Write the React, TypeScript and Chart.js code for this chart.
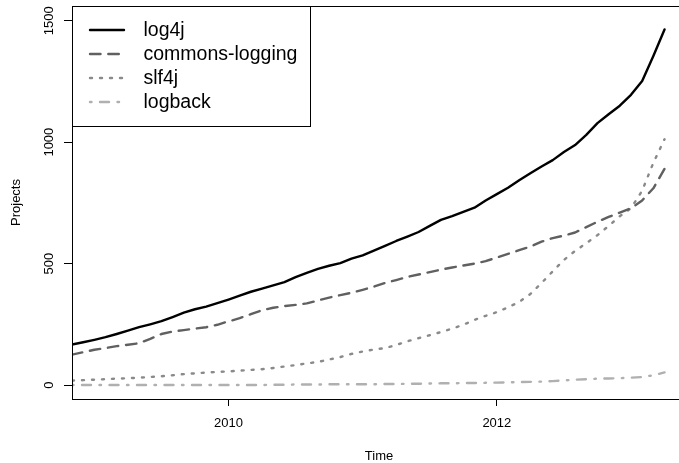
import React, { useEffect, useRef } from "react";
import { Chart, registerables } from "chart.js";

Chart.register(...registerables);

// Monthly series, Nov 2008 .. Apr 2013
const START_YEAR = 2008;
const START_MONTH = 11; // November

const log4j = [167, 176, 186, 197, 210, 224, 238, 250, 263, 280, 298, 312, 323, 337, 352, 368, 384, 397, 410, 424, 444, 462, 478, 491, 502, 520, 534, 553, 573, 593, 611, 630, 655, 680, 695, 713, 730, 760, 786, 812, 843, 872, 900, 926, 959, 988, 1030, 1078, 1115, 1150, 1195, 1252, 1355, 1464];
const commonsLogging = [125, 135, 145, 152, 160, 166, 172, 190, 210, 220, 226, 232, 238, 248, 262, 275, 292, 308, 318, 325, 330, 336, 348, 360, 370, 380, 392, 405, 420, 432, 445, 455, 465, 475, 484, 492, 500, 510, 525, 540, 555, 570, 590, 605, 615, 628, 650, 672, 692, 710, 728, 760, 810, 890];
const slf4j = [18, 20, 22, 24, 26, 28, 30, 33, 36, 40, 45, 48, 51, 54, 56, 59, 62, 65, 70, 76, 82, 89, 95, 105, 115, 128, 138, 146, 152, 165, 180, 193, 205, 218, 232, 248, 268, 285, 300, 320, 342, 375, 420, 468, 515, 552, 584, 617, 655, 695, 728, 800, 915, 1012];
const logback = [0, 0, 0, 0, 0, 0, 0, 0, 0, 0, 0, 0, 0, 0, 0, 0, 0, 0, 1, 1, 2, 2, 2, 3, 3, 3, 3, 3, 4, 4, 5, 5, 6, 7, 7, 8, 8, 9, 10, 11, 12, 13, 14, 16, 19, 22, 24, 26, 27, 28, 30, 33, 40, 52];

const seriesNames = ["log4j", "commons-logging", "slf4j", "logback"];
const xTicks = [2010, 2012];
const yTicks = [0, 500, 1000, 1500];
const xTitle = "Time";
const yTitle = "Projects";

const FONT = "'Liberation Sans', Arial, Helvetica, sans-serif";

const times = log4j.map((_, i) => START_YEAR + (START_MONTH - 1 + i) / 12);
const toPoints = (vals: number[]) => vals.map((v, i) => ({ x: times[i], y: v }));

const styles = [
  { color: "#000000", dash: [] as number[] },
  { color: "#606060", dash: [10.5, 7.8] },
  { color: "#8a8a8a", dash: [2, 8] },
  { color: "#b0b0b0", dash: [1.5, 8.5, 9, 8.5] },
];
const LW = 2.4;

const decorPlugin = {
  id: "rdecor",
  afterDraw(chart: any) {
    const ctx = chart.ctx as CanvasRenderingContext2D;
    const area = chart.chartArea;
    const yScale = chart.scales.y;
    ctx.save();
    // box
    ctx.strokeStyle = "#000";
    ctx.lineWidth = 1;
    ctx.strokeRect(area.left + 0.5, area.top + 0.5, area.right - area.left, area.bottom - area.top);

    // y tick labels (rotated)
    ctx.fillStyle = "#000";
    ctx.font = `13px ${FONT}`;
    ctx.textAlign = "center";
    ctx.textBaseline = "alphabetic";
    yTicks.forEach((v) => {
      const y = yScale.getPixelForValue(v);
      ctx.save();
      ctx.translate(53, y);
      ctx.rotate(-Math.PI / 2);
      ctx.fillText(String(v), 0, 0);
      ctx.restore();
    });
    // y title
    ctx.save();
    ctx.translate(20, (area.top + area.bottom) / 2);
    ctx.rotate(-Math.PI / 2);
    ctx.fillText(yTitle, 0, 0);
    ctx.restore();
    // x title
    ctx.fillText(xTitle, (area.left + area.right) / 2, 459.5);

    // legend
    const lx = area.left, ly = area.top;
    const lw = 238, lh = 120;
    ctx.fillStyle = "#fff";
    ctx.fillRect(lx + 0.5, ly + 0.5, lw, lh);
    ctx.strokeStyle = "#000";
    ctx.lineWidth = 1;
    ctx.strokeRect(lx + 0.5, ly + 0.5, lw, lh);
    ctx.font = `19.5px ${FONT}`;
    ctx.textAlign = "left";
    ctx.textBaseline = "middle";
    seriesNames.forEach((name, i) => {
      const rowY = ly + 24 + i * 24;
      const st = styles[i];
      ctx.beginPath();
      ctx.strokeStyle = st.color;
      ctx.lineWidth = LW;
      ctx.lineCap = "round";
      ctx.setLineDash(st.dash);
      ctx.moveTo(90, rowY);
      ctx.lineTo(124, rowY);
      ctx.stroke();
      ctx.setLineDash([]);
      ctx.fillStyle = "#000";
      ctx.fillText(name, 143.5, rowY + 1);
    });
    ctx.restore();
  },
};

export default function App() {
  const ref = useRef<HTMLCanvasElement | null>(null);
  useEffect(() => {
    if (!ref.current) return;
    const all = [log4j, commonsLogging, slf4j, logback];
    const chart = new Chart(ref.current, {
      type: "line",
      data: {
        datasets: all.map((vals, i) => ({
          label: seriesNames[i],
          data: toPoints(vals),
          borderColor: styles[i].color,
          borderWidth: LW,
          borderDash: styles[i].dash,
          borderCapStyle: "round" as const,
          borderJoinStyle: "round" as const,
          pointRadius: 0,
          tension: 0,
          fill: false,
        })),
      },
      options: {
        animation: false,
        responsive: false,
        devicePixelRatio: 1,
        layout: { padding: { top: 6, right: 4, left: 0, bottom: 0 } },
        plugins: { legend: { display: false }, tooltip: { enabled: false } },
        scales: {
          x: {
            type: "linear",
            min: 2008 + 10 / 12,
            max: 2013.41,
            afterBuildTicks: (s: any) => {
              s.ticks = xTicks.map((v) => ({ value: v }));
            },
            afterFit: (s: any) => {
              s.height = 64;
            },
            border: { display: false },
            grid: {
              display: true,
              drawOnChartArea: false,
              drawTicks: true,
              tickLength: 7,
              color: "#000",
              lineWidth: 1,
            },
            ticks: {
              color: "#000",
              font: { family: FONT, size: 13 },
              padding: 10,
              maxRotation: 0,
              callback: (v: any) => String(v),
            },
          },
          y: {
            type: "linear",
            min: -57.6,
            max: 1560.5,
            afterBuildTicks: (s: any) => {
              s.ticks = yTicks.map((v) => ({ value: v }));
            },
            afterFit: (s: any) => {
              s.width = 72;
            },
            border: { display: false },
            grid: {
              display: true,
              drawOnChartArea: false,
              drawTicks: true,
              tickLength: 8,
              color: "#000",
              lineWidth: 1,
            },
            ticks: { display: false },
          },
        },
      },
      plugins: [decorPlugin],
    });
    return () => chart.destroy();
  }, []);
  return (
    <div style={{ position: "absolute", left: 0, top: 0, width: 679, height: 463, overflow: "hidden", background: "#fff" }}>
      <canvas ref={ref} width={690} height={463} style={{ display: "block" }} />
    </div>
  );
}
